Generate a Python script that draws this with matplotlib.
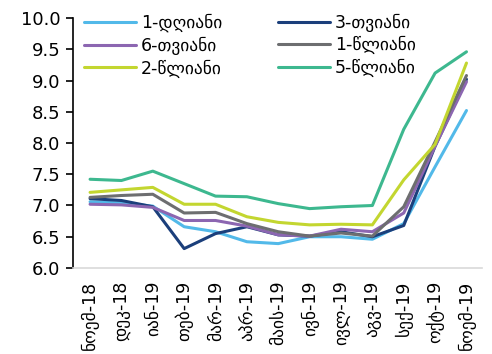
import matplotlib.pyplot as plt
import numpy as np

# თვეები
months = ["ნოემ-18", "დეკ-18", "იან-19", "თებ-19", "მარ-19", "აპრ-19", "მაის-19",
          "ივნ-19", "ივლ-19", "აგვ-19", "სექ-19", "ოქტ-19", "ნოემ-19"]

# სერიები
d1 = [7.06, 7.04, 6.99, 6.66, 6.58, 6.42, 6.39, 6.50, 6.50, 6.46, 6.71, 7.62, 8.52]
m3 = [7.11, 7.08, 6.98, 6.31, 6.55, 6.66, 6.53, 6.51, 6.58, 6.50, 6.68, 7.95, 9.02]
m6 = [7.02, 7.01, 6.97, 6.76, 6.76, 6.67, 6.53, 6.51, 6.62, 6.58, 6.88, 7.95, 8.98]
y1 = [7.13, 7.16, 7.18, 6.88, 6.89, 6.71, 6.58, 6.51, 6.56, 6.51, 6.98, 8.02, 9.08]
y2 = [7.21, 7.25, 7.29, 7.02, 7.02, 6.82, 6.73, 6.69, 6.70, 6.69, 7.41, 7.98, 9.28]
y5 = [7.42, 7.40, 7.55, 7.35, 7.15, 7.14, 7.03, 6.95, 6.98, 7.00, 8.22, 9.12, 9.46]

series = [
    ("1-დღიანი", d1, "#52b9e9"),
    ("3-თვიანი", m3, "#1b3f7b"),
    ("6-თვიანი", m6, "#8c66b1"),
    ("1-წლიანი", y1, "#6d6e70"),
    ("2-წლიანი", y2, "#c3d630"),
    ("5-წლიანი", y5, "#3db88f"),
]

plt.rcParams['font.family'] = ['DejaVu Sans']

fig = plt.figure(figsize=(4.92, 3.54), dpi=100)
ax = fig.add_axes([0.148, 0.243, 0.832, 0.706])

x = np.arange(len(months))
lines = {}
for name, vals, col in series:
    lines[name], = ax.plot(x, vals, color=col, lw=2.2, label=name,
                           solid_joinstyle="round", solid_capstyle="round")

ax.set_xlim(-0.55, 12.5)
ax.set_ylim(6.0, 10.0)
yt = np.arange(6.0, 10.01, 0.5)
ax.set_yticks(yt)
ax.set_yticklabels([f"{v:.1f}" for v in yt], fontsize=13)
ax.set_xticks(x)
ax.set_xticklabels(months, rotation=90, fontsize=12.5)

ax.spines["top"].set_visible(False)
ax.spines["right"].set_visible(False)
ax.spines["left"].set_color("black")
ax.spines["left"].set_linewidth(1.2)
ax.spines["bottom"].set_color("#d9d9d9")
ax.spines["bottom"].set_linewidth(1.2)
ax.tick_params(axis="y", direction="out", length=5, width=1.2, pad=4)
ax.tick_params(axis="x", length=0, pad=9)

# ლეგენდა რიგებად: matplotlib სვეტებად ავსებს, ამიტომ გადავალაგოთ
order = ["1-დღიანი", "6-თვიანი", "2-წლიანი", "3-თვიანი", "1-წლიანი", "5-წლიანი"]
fig.legend([lines[n] for n in order], order, loc="upper left",
           bbox_to_anchor=(0.170, 0.962), ncol=2, frameon=False,
           fontsize=12.5, handlelength=3.0, handletextpad=0.3, columnspacing=3.2,
           labelspacing=0.27, borderaxespad=0, borderpad=0)

fig.savefig("out.png", dpi=100)
